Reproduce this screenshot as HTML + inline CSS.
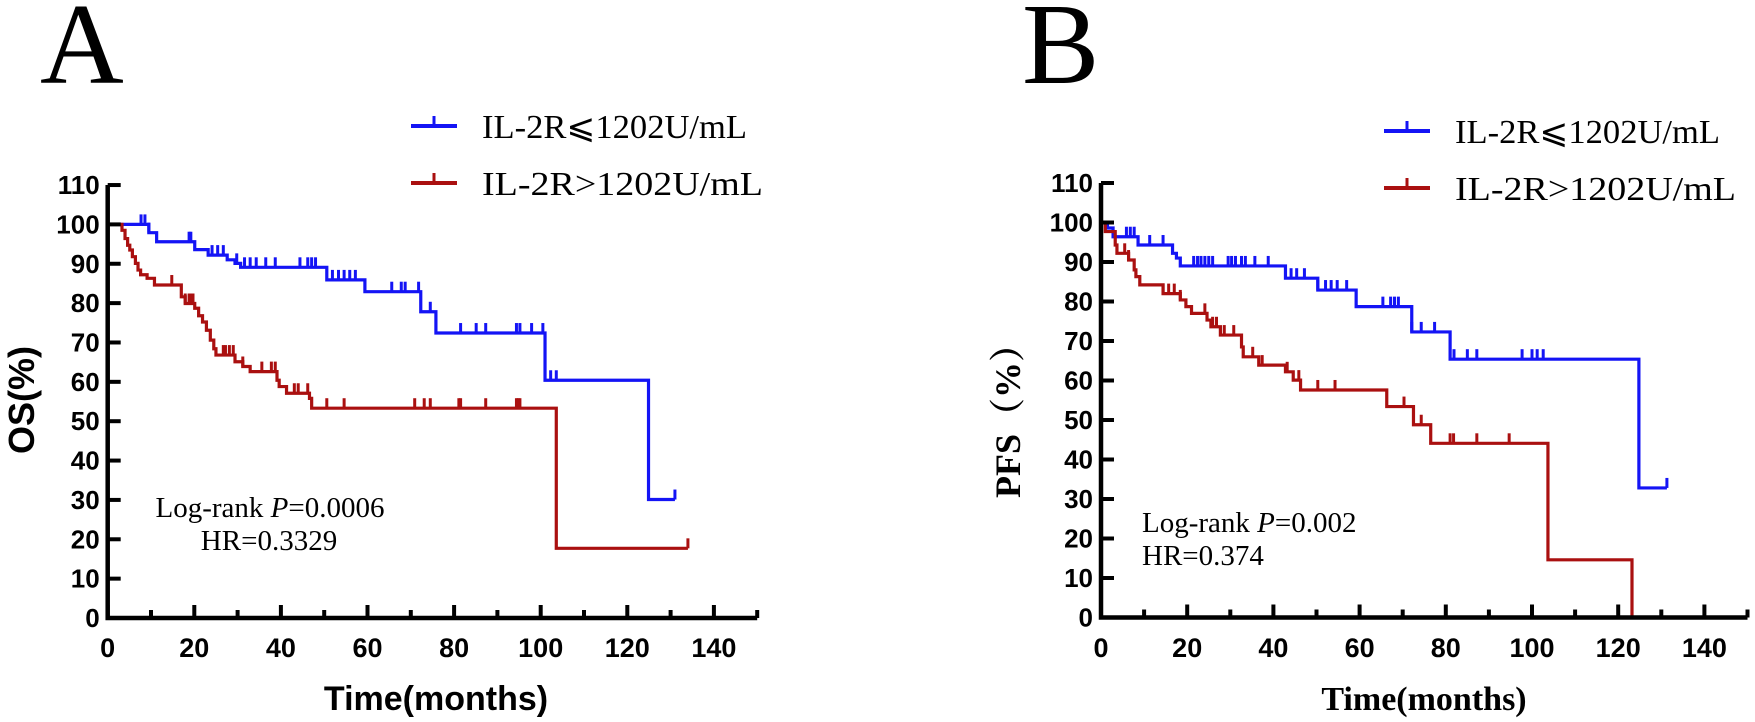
<!DOCTYPE html>
<html><head><meta charset="utf-8"><style>
html,body{margin:0;padding:0;background:#fff}
svg{display:block}
</style></head><body>
<svg id="fig" width="1755" height="722" viewBox="0 0 1755 722" xmlns="http://www.w3.org/2000/svg">
<text x="40" y="83" font-family="Liberation Serif, serif" font-size="116">A</text>
<text x="1022" y="83" font-family="Liberation Serif, serif" font-size="116">B</text>
</svg>
<script>
const NS='http://www.w3.org/2000/svg';
const svg=document.getElementById('fig');
const BLUE='#1414f5', RED='#aa1010';
const yTicks=[0,10,20,30,40,50,60,70,80,90,100,110];
const xTicks=[0,20,40,60,80,100,120,140];
const xMinor=[10,30,50,70,90,110,130,150];
// Panel A (OS)
const aBlueT=[9.5,11.3,20.1,23.2,27.6,29.4,30.7,50.6,59.4,72.3,75.8,101,124.9];
const aBlueV=[97.9,95.6,93.6,92.2,91,90.1,89.1,85.9,82.9,77.8,72.4,60.4,30.1];
const aBlueEnd=131;
const aBlueC=[7.7,8.6,9.5,18.8,19.2,24.1,25.4,26.7,29.8,31.6,32.9,34.3,36.5,38.7,44.4,46.2,47.1,48.0,51.9,53.3,54.6,55.9,57.2,65.6,67.8,68.7,71.8,74.5,81.5,85.1,87.3,94.4,95.2,97.9,100.5,102.3,103.6,131];
const aRedT=[3.3,4.0,4.6,5.1,5.7,6.4,7.0,7.6,9.1,10.8,17.0,17.9,20.1,21.0,21.9,22.8,23.7,24.5,25.0,29.4,31.2,32.9,39.1,39.6,41.3,46.6,47.1,103.6];
const aRedV=[98.5,96.4,94.7,93.5,91.8,90.1,88.4,87.2,86.3,84.6,81.6,79.9,78.7,76.8,75.2,73.1,70.6,68.4,66.8,65.1,63.9,62.6,60.4,58.8,57.1,55.8,53.3,17.7];
const aRedEnd=134;
const aRedC=[14.8,17.9,18.8,19.2,19.7,26.7,27.2,28.1,29.0,31.2,35.6,37.8,38.7,43.1,44.0,46.2,50.6,54.6,70.9,73.1,74.5,81.1,81.5,87.3,94.4,94.8,95.2,134];
// Panel B (PFS)
const bBlueT=[1.5,2.8,8.6,16.6,17.5,18.4,42.8,50.3,59.2,72.1,81.0,124.8];
const bBlueV=[98.6,96.4,94.3,92.2,91.0,89.0,85.9,82.9,78.7,72.3,65.4,32.8];
const bBlueEnd=131.3;
const bBlueC=[5.9,6.8,7.7,11.3,14.4,21.5,22.4,23.2,24.1,25.0,25.9,29.5,30.3,31.2,32.6,33.5,35.7,38.8,44.1,45.4,47.2,50.3,52.1,53.4,54.8,57.0,65.4,67.2,68.1,69.0,72.1,74.3,77.4,81.9,85.0,87.2,97.7,100.0,101.2,102.6,131.3];
const bRedT=[1.0,3.3,3.7,6.4,7.7,8.1,9.0,14.4,18.4,19.7,21.0,24.6,25.5,27.7,32.6,33.0,36.6,42.8,44.6,46.3,66.3,72.5,76.5,103.7,123.2];
const bRedV=[97.7,94.3,92.2,90.5,88.0,86.3,84.2,82.0,80.4,78.7,77.0,75.3,73.6,71.5,68.5,66.0,63.9,62.2,60.1,57.6,53.4,48.8,44.1,14.6,0];
const bRedEnd=123.2;
const bRedC=[5.5,6.4,14.4,15.7,17.0,18.4,24.1,25.9,26.8,28.6,30.8,35.2,37.4,43.2,45.9,50.3,54.3,70.3,74.3,81.0,81.8,87.2,94.7];

function el(tag,attrs,parent){const e=document.createElementNS(NS,tag);for(const k in attrs)e.setAttribute(k,attrs[k]);(parent||svg).appendChild(e);return e;}

function panel(p){
  const g=el('g',{});
  
  
  const X=m=>p.x0+m*p.sx, Y=v=>p.y0-v*p.sy;
  // series
  p.series.forEach(s=>{
    let d='M'+X(0)+','+Y(100);
    let cur=100;
    s.t.forEach((t,i)=>{d+=' H'+X(t)+' V'+Y(s.v[i]);cur=s.v[i];});
    d+=' H'+X(s.end);
    const path=el('path',{d:d,fill:'none',stroke:s.color,'stroke-width':3.2,'stroke-linejoin':'miter'},g);
    
    
    const valAt=m=>{let v=100;s.t.forEach((t,i)=>{if(t<=m)v=s.v[i];});return v;};
    s.c.forEach(m=>{
      const tk=el('line',{x1:X(m),x2:X(m),y1:Y(valAt(m)),y2:Y(valAt(m))-10,stroke:s.color,'stroke-width':3},g);
      
      
    });
  });
  // axes
  const ax=el('path',{d:'M'+X(0)+','+Y(110)+' V'+Y(0)+' H'+X(150),fill:'none',stroke:'#000','stroke-width':4.5},g);
  
  
  yTicks.forEach(v=>{
    el('line',{x1:X(0),x2:X(0)+13,y1:Y(v),y2:Y(v),stroke:'#000','stroke-width':4},g);
    const t=el('text',{x:X(0)-8,y:Y(v)+9,'text-anchor':'end','font-family':'Liberation Sans, sans-serif','font-weight':'bold','font-size':26,transform:'',textLength:'',},g);
    t.removeAttribute('transform');t.removeAttribute('textLength');
    t.textContent=v;
    
    
  });
  xTicks.forEach(m=>{
    el('line',{x1:X(m),x2:X(m),y1:Y(0),y2:Y(0)-13,stroke:'#000','stroke-width':4},g);
    const t=el('text',{x:X(m),y:657,'text-anchor':'middle','font-family':'Liberation Sans, sans-serif','font-weight':'bold','font-size':27},g);
    t.textContent=m;
    
    
  });
  xMinor.forEach(m=>{el('line',{x1:X(m),x2:X(m),y1:Y(0),y2:Y(0)-8,stroke:'#000','stroke-width':4},g);});
  // titles
  const xt=el('text',{x:p.xtx,y:710,'text-anchor':'middle','font-family':p.tfont,'font-weight':'bold','font-size':34},g);
  xt.textContent='Time(months)';
  
  
  const yt=el('text',{x:0,y:0,'text-anchor':'middle','font-family':p.tfont,'font-weight':'bold','font-size':36,transform:'translate('+p.ytx+','+p.yty+') rotate(-90)'},g);
  yt.textContent=p.ytitle;
  
  
  // legend
  p.series.forEach((s,i)=>{
    const ly=p.ly[i];
    el('line',{x1:p.lx,x2:p.lx+46,y1:ly,y2:ly,stroke:s.color,'stroke-width':4},g);
    el('line',{x1:p.lx+23,x2:p.lx+23,y1:ly,y2:ly-10,stroke:s.color,'stroke-width':3},g);
    const lt=el('text',{x:p.lx+71,y:ly+12,'font-family':'Liberation Serif, "Noto Serif CJK SC", serif','font-size':34,textLength:s.lw,lengthAdjust:'spacingAndGlyphs'},g);
    lt.textContent=s.label;
    
    
  });
  // annotations
  p.ann.forEach(a=>{
    const t=el('text',{x:a.x,y:a.y,'text-anchor':a.anchor,'font-family':'Liberation Serif, serif','font-size':29},g);
    t.innerHTML=a.html;
    
    
  });
}

panel({id:'os',x0:107.7,sx:4.33,y0:618,sy:3.936,xtx:436,ytx:34,yty:400,ytitle:'OS(%)',tfont:'Liberation Sans, sans-serif',
  lx:411,ly:[126,183],
  series:[
    {name:'low-il2r',color:BLUE,t:aBlueT,v:aBlueV,end:aBlueEnd,c:aBlueC,label:'IL-2R⩽1202U/mL',lw:265},
    {name:'high-il2r',color:RED,t:aRedT,v:aRedV,end:aRedEnd,c:aRedC,label:'IL-2R>1202U/mL',lw:281}],
  ann:[{x:270,y:517,anchor:'middle',html:'Log-rank <tspan font-style="italic">P</tspan>=0.0006',name:'log-rank-annotation'},
       {x:269,y:550,anchor:'middle',html:'HR=0.3329',name:'hazard-ratio-annotation'}]});

panel({id:'pfs',x0:1101,sx:4.31,y0:617.5,sy:3.95,xtx:1424,ytx:1020,yty:412,ytitle:'PFS（%）',tfont:'Liberation Serif, "Noto Serif CJK SC", serif',
  lx:1384,ly:[131,188],
  series:[
    {name:'low-il2r',color:BLUE,t:bBlueT,v:bBlueV,end:bBlueEnd,c:bBlueC,label:'IL-2R⩽1202U/mL',lw:265},
    {name:'high-il2r',color:RED,t:bRedT,v:bRedV,end:bRedEnd,c:bRedC,label:'IL-2R>1202U/mL',lw:281}],
  ann:[{x:1142,y:532,anchor:'start',html:'Log-rank <tspan font-style="italic">P</tspan>=0.002',name:'log-rank-annotation'},
       {x:1142,y:565,anchor:'start',html:'HR=0.374',name:'hazard-ratio-annotation'}]});
</script>
</body></html>
